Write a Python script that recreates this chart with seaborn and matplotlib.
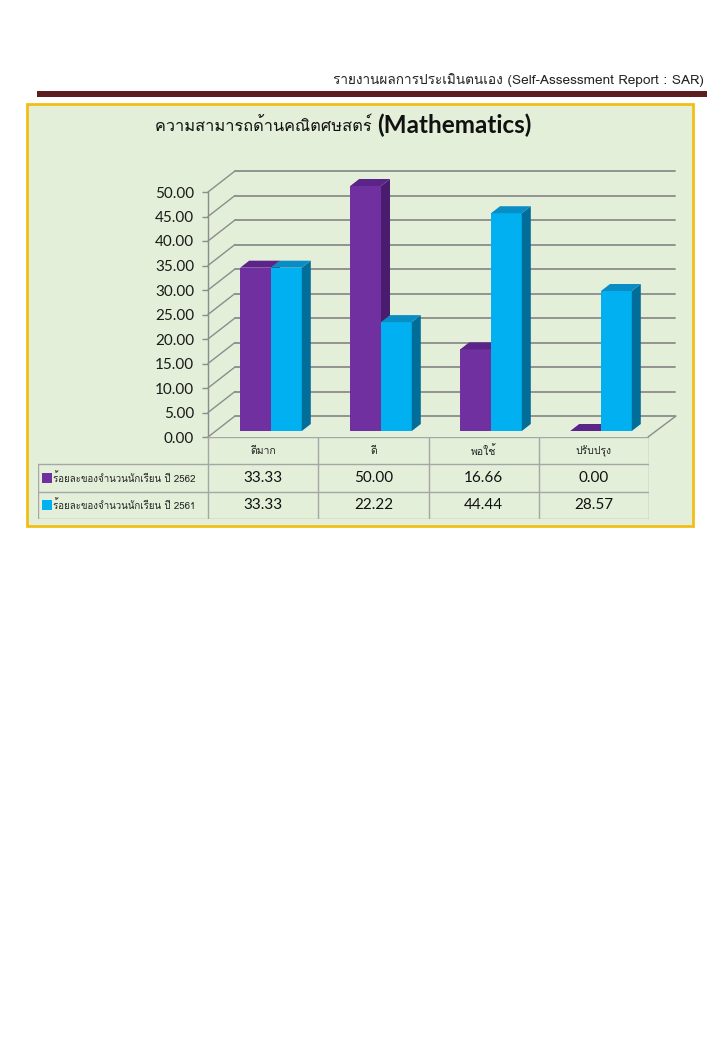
import numpy as np
import pandas as pd
import matplotlib
matplotlib.use("Agg")
import matplotlib.pyplot as plt
import seaborn as sns
from matplotlib import font_manager
from matplotlib.ft2font import FT2Font
from matplotlib.transforms import ScaledTranslation
from matplotlib.patches import Polygon, Rectangle

# ---------------- data ----------------
categories = ["ดีมาก", "ดี", "พอใช้", "ปรับปรุง"]
series_names = ["ร้อยละของจำนวนนักเรียน ปี 2562", "ร้อยละของจำนวนนักเรียน ปี 2561"]
values_2562 = [33.33, 50.00, 16.66, 0.00]
values_2561 = [33.33, 22.22, 44.44, 28.57]
ytick_values = [0, 5, 10, 15, 20, 25, 30, 35, 40, 45, 50]
title_thai = "ความสามารถด้านคณิตศษสตร์"
title_eng = "(Mathematics)"
header_text = "รายงานผลการประเมินตนเอง (Self-Assessment Report : SAR)"

# ---------------- fonts ----------------
def find_thai_font():
    seen = set()
    for f in font_manager.fontManager.ttflist:
        if f.name in seen:
            continue
        try:
            cm = FT2Font(f.fname).get_charmap()
            if 0x0E01 in cm and 0x0E49 in cm:
                return f.name
        except Exception:
            pass
        seen.add(f.name)
    return None

thai = find_thai_font()
sns.set_theme(style="white")
fam = ([thai] if thai else []) + ["Lato", "DejaVu Sans"]
plt.rcParams["font.family"] = fam
num_font = ["Lato", "DejaVu Sans"]

# ---------------- colours ----------------
purple, cyan = "#7030A0", "#00B0F0"
purple_side, cyan_side = "#4A1C6E", "#006E99"
purple_top, cyan_top = "#5B2488", "#0A8CC4"
bg = "#E3EFD9"
grid_c = "#8C8C8C"
line_c = "#A6A6A6"

W, H = 720, 1040
fig = plt.figure(figsize=(W / 100, H / 100), dpi=100)
fig.patch.set_facecolor("white")

def fx(px):
    return px / W

def fy(py):
    return 1 - py / H

# header
fig.text(fx(704), fy(80), header_text, ha="right", va="center", fontsize=9.8,
         color="#222222", family=fam)
fig.patches.append(Rectangle((fx(37), fy(97)), fx(707) - fx(37), fy(91) - fy(97),
                             transform=fig.transFigure, facecolor="#5C1F1F",
                             edgecolor="none", zorder=-5))
# chart box
fig.patches.append(Rectangle((fx(27), fy(526)), fx(693) - fx(27), fy(104) - fy(526),
                             transform=fig.transFigure, facecolor=bg,
                             edgecolor="#F2BE16", linewidth=2, zorder=-5))

# title
fig.text(fx(377), fy(126), title_thai + " ", ha="right", va="center",
         fontsize=11.8, color="#111111", family=fam)
fig.text(fx(377), fy(125), title_eng, ha="left", va="center", fontsize=17.5,
         fontweight="bold", color="#111111", family=num_font)

# ---------------- main axes ----------------
ax = fig.add_axes([fx(208), fy(437), fx(648) - fx(208), fy(192) - fy(437)])
ax.set_facecolor("none")
ax.set_xlim(-0.5, len(categories) - 0.5)
ax.set_ylim(0, 50)

back = ScaledTranslation(0.27, 0.21, fig.dpi_scale_trans)
mid = ScaledTranslation(0.08, 0.06, fig.dpi_scale_trans)

# back wall grid lines
for v in ytick_values:
    ax.plot([-0.5, len(categories) - 0.5], [v, v], color=grid_c, lw=1.3,
            transform=ax.transData + back, clip_on=False, zorder=1)
    ax.annotate("", xy=(-0.5, v), xycoords="data", xytext=(27, 21),
                textcoords="offset pixels",
                arrowprops=dict(arrowstyle="-", color=grid_c, lw=1.0,
                                shrinkA=0, shrinkB=0), zorder=1,
                annotation_clip=False)
# floor right edge
ax.annotate("", xy=(len(categories) - 0.5, 0), xycoords="data", xytext=(28, 21),
            textcoords="offset pixels",
            arrowprops=dict(arrowstyle="-", color=grid_c, lw=1.0,
                            shrinkA=0, shrinkB=0), zorder=1, annotation_clip=False)

df = pd.DataFrame({
    "cat": categories * 2,
    "val": values_2562 + values_2561,
    "series": [series_names[0]] * 4 + [series_names[1]] * 4,
})
sns.barplot(data=df, x="cat", y="val", hue="series", order=categories,
            hue_order=series_names, palette=[purple, cyan], width=0.56,
            saturation=1, ax=ax, legend=False, errorbar=None, linewidth=0)
ax.set_xlim(-0.5, len(categories) - 0.5)
ax.set_ylim(0, 50)

# 3D faces
ddx = 9 / 110.0
ddy = 7 / 4.9
bars = list(ax.patches)
side_cols = {purple: (purple_side, purple_top), cyan: (cyan_side, cyan_top)}
for b in bars:
    fc = matplotlib.colors.to_hex(b.get_facecolor()).upper()
    sc, tc = side_cols.get(fc, (purple_side, purple_top))
    x0, w, h = b.get_x(), b.get_width(), b.get_height()
    z = 3 + x0
    b.set_transform(ax.transData + mid)
    b.set_clip_on(False)
    b.set_zorder(z)
    side = Polygon([(x0 + w, 0), (x0 + w + ddx, ddy), (x0 + w + ddx, h + ddy), (x0 + w, h)],
                   closed=True, facecolor=sc, edgecolor="none",
                   transform=ax.transData + mid, clip_on=False, zorder=z)
    top = Polygon([(x0, h), (x0 + w, h), (x0 + w + ddx, h + ddy), (x0 + ddx, h + ddy)],
                  closed=True, facecolor=tc, edgecolor="none",
                  transform=ax.transData + mid, clip_on=False, zorder=z)
    ax.add_patch(side)
    ax.add_patch(top)

for s in ["top", "right", "bottom"]:
    ax.spines[s].set_visible(False)
ax.spines["left"].set_color(grid_c)
ax.spines["left"].set_linewidth(1.0)
ax.set_yticks(ytick_values)
ax.set_yticklabels([f"{v:.2f}" for v in ytick_values], family=num_font,
                   fontsize=11, color="#1a1a1a")
ax.tick_params(axis="y", direction="out", length=4, width=1, color=grid_c, pad=6,
               left=True)
ax.set_xticks([])
ax.set_xlabel("")
ax.set_ylabel("")

# ---------------- data table ----------------
tax = fig.add_axes([fx(38), fy(519), fx(649) - fx(38), fy(437) - fy(519)])
tax.set_facecolor("none")
label_w = (208 - 38) / 110.0
left = -0.5 - label_w
ncat = len(categories)
tax.set_xlim(left, ncat - 0.5)
tax.set_ylim(3, 0)
tax.axis("off")

tax.plot([-0.5, ncat - 0.5], [0, 0], color=line_c, lw=1)
for yv in [1, 2, 3]:
    tax.plot([left, ncat - 0.5], [yv, yv], color=line_c, lw=1)
tax.plot([left, left], [1, 3], color=line_c, lw=1)
for i in range(ncat + 1):
    tax.plot([i - 0.5, i - 0.5], [0, 3], color=line_c, lw=1)

for i, c in enumerate(categories):
    tax.text(i, 0.5, c, ha="center", va="center", fontsize=7.5, color="#222222",
             family=fam)
for r, (vals, col, name) in enumerate([(values_2562, purple, series_names[0]),
                                        (values_2561, cyan, series_names[1])]):
    yrow = 1.5 + r
    tax.add_patch(Rectangle((left + 0.04, yrow - 0.18), 0.085, 0.36,
                            facecolor=col, edgecolor="none"))
    tax.text(left + 0.14, yrow, name, ha="left", va="center", fontsize=7,
             color="#222222", family=fam)
    for i, v in enumerate(vals):
        tax.text(i, yrow, f"{v:.2f}", ha="center", va="center", fontsize=11,
                 color="#111111", family=num_font)

fig.savefig("out.png", dpi=100, facecolor="white")
